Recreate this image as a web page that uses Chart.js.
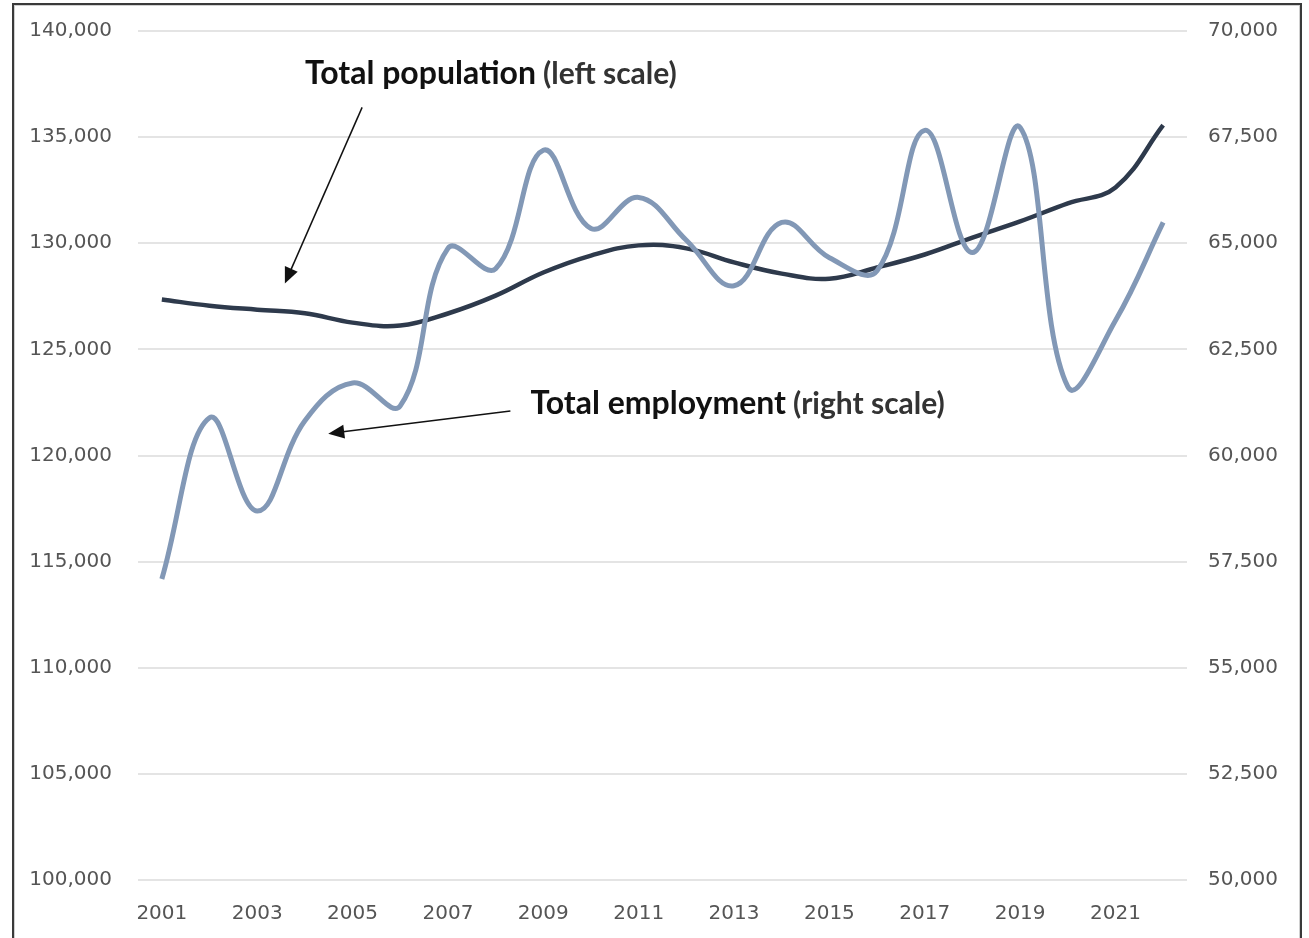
<!DOCTYPE html>
<html>
<head>
<meta charset="utf-8">
<script src="https://cdn.jsdelivr.net/npm/chart.js@4.4.1/dist/chart.umd.min.js"></script>
<style>
  html, body { margin: 0; padding: 0; background: #fff; overflow: hidden; }
  #frame {
    position: absolute; left: 12px; top: 3px; width: 1286px; height: 980px;
    border: 2px solid #3a3a3a; box-shadow: inset 0 0 0 1px #d0d0d0;
  }
  #myChart { position: absolute; left: 0; top: 0; }
</style>
</head>
<body>
<div id="frame"></div>
<canvas id="myChart" width="1309" height="938"></canvas>
<script>
// Years on the category axis
const years = ['2001', '2002', '2003', '2004', '2005', '2006', '2007', '2008', '2009', '2010', '2011',
               '2012', '2013', '2014', '2015', '2016', '2017', '2018', '2019', '2020', '2021', '2022'];

// Total population (left scale)
const population = [127350, 127060, 126870, 126700, 126260, 126120, 126690, 127530, 128620, 129420, 129900,
                    129760, 129100, 128570, 128330, 128860, 129470, 130270, 131030, 131880, 132630, 135560];

// Total employment (right scale)
const employment = [57090, 60890, 58690, 60820, 61710, 61170, 64880, 64400, 67190, 65350, 66080,
                    65070, 64000, 65490, 64660, 64350, 67660, 64780, 67730, 61620, 63180, 65490];

// Axis ranges
const leftRange = [100000, 140000, 5000];
const rightRange = [50000, 70000, 2500];

// Callout anchors in data space: [category index, left-scale value]
const popLabelAt = [3.0, 138000];
const popArrow = [4.2, 136400, 2.58, 128100];
const empLabelAt = [7.73, 122450];
const empArrow = [7.31, 122100, 3.49, 121030];

const tickFont = { family: 'DejaVu Sans', size: 20 };
const tickColor = '#555555';

function drawArrow(ctx, x1, y1, x2, y2) {
  const ang = Math.atan2(y2 - y1, x2 - x1);
  const len = 16, half = 7;
  ctx.save();
  ctx.strokeStyle = '#111';
  ctx.fillStyle = '#111';
  ctx.lineWidth = 1.5;
  ctx.beginPath();
  ctx.moveTo(x1, y1);
  ctx.lineTo(x2 - Math.cos(ang) * len * 0.8, y2 - Math.sin(ang) * len * 0.8);
  ctx.stroke();
  ctx.beginPath();
  ctx.moveTo(x2, y2);
  ctx.lineTo(x2 - Math.cos(ang) * len + Math.sin(ang) * half, y2 - Math.sin(ang) * len - Math.cos(ang) * half);
  ctx.lineTo(x2 - Math.cos(ang) * len - Math.sin(ang) * half, y2 - Math.sin(ang) * len + Math.cos(ang) * half);
  ctx.closePath();
  ctx.fill();
  ctx.restore();
}

function drawLabel(ctx, x, y, main, sub) {
  ctx.save();
  ctx.textBaseline = 'middle';
  ctx.textAlign = 'left';
  ctx.font = 'bold 32px Lato';
  ctx.fillStyle = '#111';
  ctx.fillText(main, x, y);
  const w = ctx.measureText(main).width;
  ctx.font = 'bold 30px Lato';
  ctx.fillStyle = '#333';
  ctx.fillText(sub, x + w + 7, y + 1);
  ctx.restore();
}

// Text callouts with arrows pointing at each series
const callouts = {
  id: 'callouts',
  afterDatasetsDraw(chart) {
    const { ctx, scales } = chart;
    const px = v => scales.x.getPixelForValue(v);
    const py = v => scales.y.getPixelForValue(v);
    drawLabel(ctx, px(popLabelAt[0]), py(popLabelAt[1]), 'Total population', '(left scale)');
    drawArrow(ctx, px(popArrow[0]), py(popArrow[1]), px(popArrow[2]), py(popArrow[3]));
    drawLabel(ctx, px(empLabelAt[0]), py(empLabelAt[1]), 'Total employment', '(right scale)');
    drawArrow(ctx, px(empArrow[0]), py(empArrow[1]), px(empArrow[2]), py(empArrow[3]));
  }
};

// fixed axis sizes so the plot area lands where it should
function fitVertical(width) {
  return scale => {
    scale.width = width;
    scale.paddingTop = 0;
    scale.paddingBottom = 0;
  };
}

const ctx = document.getElementById('myChart').getContext('2d');
const chart = new Chart(ctx, {
  type: 'line',
  data: {
    labels: years,
    datasets: [
      {
        label: 'Total employment',
        data: employment,
        yAxisID: 'y1',
        borderColor: '#8298b6',
        borderWidth: 5,
        tension: 0.4,
        pointRadius: 0,
        order: 0
      },
      {
        label: 'Total population',
        data: population,
        yAxisID: 'y',
        borderColor: '#2e3a4c',
        borderWidth: 4.5,
        tension: 0.4,
        pointRadius: 0,
        order: 1
      }
    ]
  },
  options: {
    responsive: false,
    animation: false,
    devicePixelRatio: 1,
    layout: { padding: { top: 31, left: 0, right: 0, bottom: 0 } },
    plugins: {
      legend: { display: false },
      tooltip: { enabled: false }
    },
    scales: {
      x: {
        offset: true,
        grid: { display: false, drawTicks: false },
        border: { display: false },
        ticks: {
          autoSkip: false,
          maxRotation: 0,
          padding: 22,
          color: tickColor,
          font: tickFont,
          callback: function (val, i) { return i % 2 === 0 ? this.getLabelForValue(val) : ''; }
        },
        afterFit: scale => {
          scale.height = 58;
          scale.paddingLeft = 0;
          scale.paddingRight = 0;
        }
      },
      y: {
        position: 'left',
        min: leftRange[0],
        max: leftRange[1],
        grid: { color: '#e4e4e4', lineWidth: 2, drawTicks: false },
        border: { display: false },
        ticks: {
          stepSize: leftRange[2],
          padding: 26,
          color: tickColor,
          font: tickFont,
          callback: v => v.toLocaleString('en-US')
        },
        afterFit: fitVertical(138)
      },
      y1: {
        position: 'right',
        min: rightRange[0],
        max: rightRange[1],
        grid: { display: false, drawTicks: false },
        border: { display: false },
        ticks: {
          stepSize: rightRange[2],
          padding: 21,
          color: tickColor,
          font: tickFont,
          callback: v => v.toLocaleString('en-US')
        },
        afterFit: fitVertical(122)
      }
    }
  },
  plugins: [callouts]
});
</script>
</body>
</html>
